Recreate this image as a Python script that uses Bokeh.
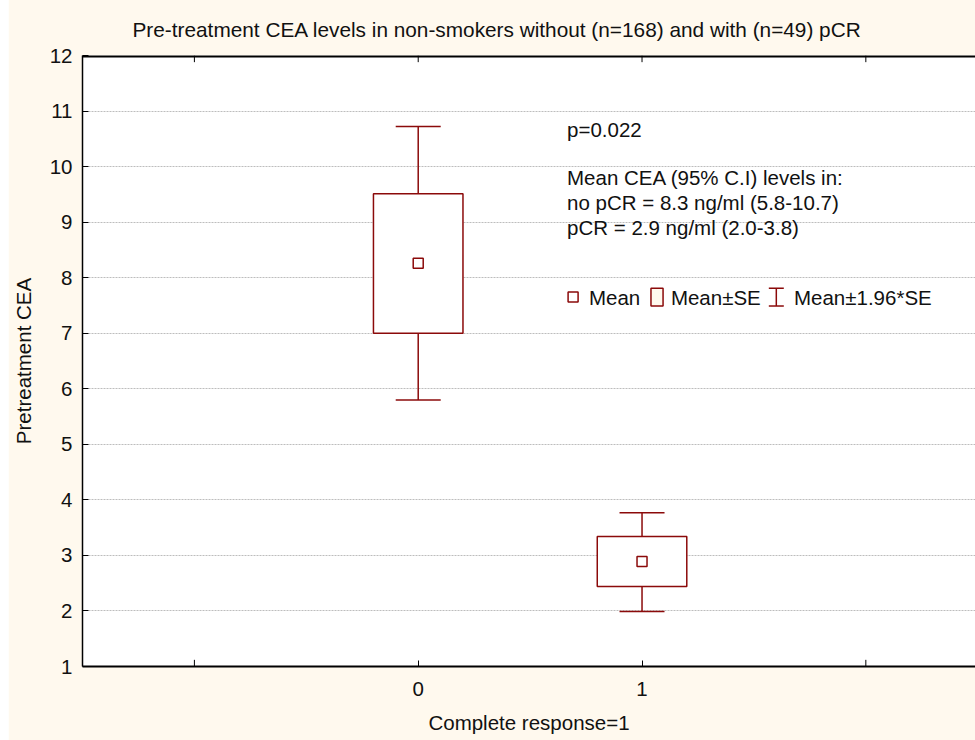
from bokeh.plotting import figure
from bokeh.models import (Range1d, FixedTicker, Whisker, TeeHead, Span,
                          ColumnDataSource, BoxAnnotation, Label)
from bokeh.embed import file_html
from bokeh.resources import INLINE

# ---------------- data ----------------
groups = [0, 1]
means = [8.26, 2.89]
se_low = [7.00, 2.44]
se_high = [9.51, 3.34]
ci_low = [5.80, 1.99]
ci_high = [10.72, 3.77]

y_ticks = list(range(1, 13))
y_grid_ticks = list(range(2, 12))
x_label_ticks = [0, 1]
x_all_ticks = [-1, 0, 1, 2]
x_unlabeled_ticks = [-1, 2]

title_text = "Pre-treatment CEA levels in non-smokers without (n=168) and with (n=49) pCR"
x_label = "Complete response=1"
y_label = "Pretreatment CEA"
note_lines = ["p=0.022", "Mean CEA (95% C.I) levels in:",
              "no pCR = 8.3 ng/ml (5.8-10.7)", "pCR = 2.9 ng/ml (2.0-3.8)"]
legend_labels = ["Mean", "Mean\u00b1SE", "Mean\u00b11.96*SE"]

# ---------------- style ----------------
RED = "#8b0a0a"
CREAM = "#fff9ee"
FONT = "Liberation Sans"
FS = "20.5px"
TXT = "#111111"
X0, X1 = -1.5, 2.49
Y0, Y1 = 1, 12
TICK_LEN = 0.12  # tick length in y data units

p = figure(width=967, height=745, output_backend="svg", toolbar_location=None,
           x_range=Range1d(X0, X1), y_range=Range1d(Y0, Y1),
           min_border_left=74, min_border_right=0, min_border_top=60,
           min_border_bottom=74, background_fill_color="white",
           border_fill_color=CREAM)
p.margin = (-5, 0, 0, 8)
p.outline_line_color = None

p.title.text = title_text
p.title.align = "left"
p.title.offset = 50
p.title.standoff = 29
p.title.text_font = FONT
p.title.text_font_size = "20.8px"
p.title.text_font_style = "normal"
p.title.text_color = TXT

# axes
xa = p.xaxis[0]
xa.ticker = FixedTicker(ticks=x_label_ticks)
ya = p.yaxis[0]
ya.ticker = FixedTicker(ticks=y_ticks)
for ax in (xa, ya):
    ax.major_tick_in = 6
    ax.major_tick_out = 0
    ax.minor_tick_line_color = None
    ax.axis_line_color = "black"
    ax.axis_line_width = 1.5
    ax.major_tick_line_color = "black"
    ax.major_label_text_font = FONT
    ax.major_label_text_font_size = FS
    ax.major_label_text_color = TXT
    ax.axis_label_text_font = FONT
    ax.axis_label_text_font_size = FS
    ax.axis_label_text_font_style = "normal"
    ax.axis_label_text_color = TXT
xa.axis_line_width = 2
xa.axis_label = x_label
ya.axis_label = y_label
xa.major_label_standoff = 15
xa.axis_label_standoff = 12
ya.major_label_standoff = 10
ya.axis_label_standoff = 12

p.xgrid.visible = False
p.ygrid.ticker = FixedTicker(ticks=y_grid_ticks)
p.ygrid.grid_line_color = "#bdbdbd"
p.ygrid.grid_line_dash = "2 1"
p.ygrid.grid_line_width = 1

# top border of the plot area (right side is cut off in the original)
p.add_layout(Span(location=Y1, dimension="width", line_color="black", line_width=4))
# unlabeled ticks: along the top edge and the outer bottom ticks
p.segment(x0=x_all_ticks, y0=[Y1] * len(x_all_ticks), x1=x_all_ticks,
          y1=[Y1 - TICK_LEN] * len(x_all_ticks), line_color="black", line_width=1)
p.segment(x0=x_unlabeled_ticks, y0=[Y0] * len(x_unlabeled_ticks), x1=x_unlabeled_ticks,
          y1=[Y0 + TICK_LEN] * len(x_unlabeled_ticks), line_color="black", line_width=1)

# ---------------- marks ----------------
src = ColumnDataSource(dict(x=groups, mean=means, se_low=se_low, se_high=se_high,
                            ci_low=ci_low, ci_high=ci_high))

wh = Whisker(base="x", lower="ci_low", upper="ci_high", source=src, dimension="height",
             line_color=RED, line_width=1.5,
             lower_head=TeeHead(size=45, line_color=RED, line_width=1.5),
             upper_head=TeeHead(size=45, line_color=RED, line_width=1.5))
p.add_layout(wh)

p.vbar(x="x", width=0.4, bottom="se_low", top="se_high", source=src,
       fill_color="white", line_color=RED, line_width=1.5)
p.scatter(x="x", y="mean", source=src, marker="square", size=10,
          fill_color="white", line_color=RED, line_width=1.5)

# ---------------- annotation text ----------------
NOTE_X = 0.665
note_y = [10.66, 9.81, 9.36, 8.91]
for txt, yy in zip(note_lines, note_y):
    p.add_layout(Label(x=NOTE_X, y=yy, text=txt, text_font=FONT, text_font_size=FS,
                       text_color=TXT, text_baseline="middle", text_align="left"))

# ---------------- legend (drawn) ----------------
LEG_Y = 7.65
p.scatter(x=[0.692], y=[LEG_Y], marker="square", size=10, fill_color="white",
          line_color=RED, line_width=1.5)
p.add_layout(BoxAnnotation(left=1.040, right=1.094, bottom=LEG_Y - 0.16, top=LEG_Y + 0.16,
                           fill_color=CREAM, fill_alpha=1, line_color=RED, line_alpha=1,
                           line_width=1.5, level="overlay"))
lsrc = ColumnDataSource(dict(x=[1.60], lo=[LEG_Y - 0.16], hi=[LEG_Y + 0.16]))
p.add_layout(Whisker(base="x", lower="lo", upper="hi", source=lsrc, dimension="height",
                     line_color=RED, line_width=1.5,
                     lower_head=TeeHead(size=15, line_color=RED, line_width=1.5),
                     upper_head=TeeHead(size=15, line_color=RED, line_width=1.5)))
for txt, xx in zip(legend_labels, [0.763, 1.129, 1.679]):
    p.add_layout(Label(x=xx, y=LEG_Y, text=txt, text_font=FONT, text_font_size=FS,
                       text_color=TXT, text_baseline="middle", text_align="left"))

open("out.html", "w").write(file_html(p, INLINE))
